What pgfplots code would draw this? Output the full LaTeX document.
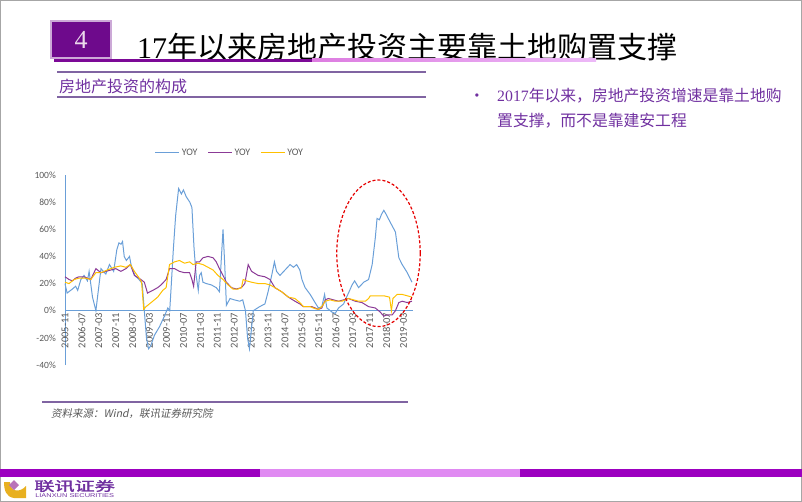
\documentclass[border=0pt]{standalone}
\usepackage{pgfplots}
\pgfplotsset{compat=1.18}
\usepackage{fontspec}
\setmainfont{Carlito}
\newfontfamily\cjk{Noto Sans CJK SC}
\newfontfamily\cjksl[FakeSlant=0.2]{Noto Sans CJK SC}
\newfontfamily\cjkb[FakeBold=2]{Noto Sans CJK SC}
\newfontfamily\serif{Liberation Serif}
\newfontfamily\lsans{Liberation Sans}
\definecolor{cblue}{HTML}{6A9FD8}
\definecolor{cpurp}{HTML}{8B3A96}
\definecolor{cyell}{HTML}{FFC000}
\definecolor{ctext}{HTML}{7030A0}
\definecolor{csq}{HTML}{6E0A8C}
\definecolor{cbar}{HTML}{9C00C0}
\definecolor{cpink}{HTML}{E08AF2}
\definecolor{cline}{HTML}{8064A2}
\definecolor{cgrey}{HTML}{595959}
\definecolor{cgold}{HTML}{E8B020}
\begin{document}
\begin{tikzpicture}
\path[use as bounding box] (0pt,0pt) rectangle (802pt,-502pt);
\begin{axis}[
  at={(65pt,-365pt)}, anchor=south west,
  scale only axis, width=348pt, height=190pt,
  xmin=0, xmax=164.5, ymin=-40, ymax=100,
  axis x line=middle, axis y line=left,
  axis line style={draw=cblue, line width=0.8pt, -},
  hide obscured x ticks=false, hide obscured y ticks=false,
  major tick length=0pt,
  xtick={0,8,...,160},
  xticklabels={2005-11,2006-07,2007-03,2007-11,2008-07,2009-03,2009-11,2010-07,2011-03,2011-11,2012-07,2013-03,2013-11,2014-07,2015-03,2015-11,2016-07,2017-03,2017-11,2018-07,2019-03},
  xticklabel style={rotate=90, anchor=east, font=\fontsize{10.5}{10.5}\selectfont, text=cgrey, inner sep=2pt},
  ytick={-40,-20,0,20,40,60,80,100},
  yticklabels={-40\%,-20\%,0\%,20\%,40\%,60\%,80\%,100\%},
  yticklabel style={font=\fontsize{9.5}{9.5}\selectfont, text=cgrey, inner sep=1pt, xshift=-8pt},
  legend columns=3,
  legend style={at={(0.474,1.116)}, anchor=center, draw=none, fill=none, font=\fontsize{10}{10}\selectfont, text=cgrey,
    /tikz/every even column/.append style={column sep=8pt}},
  legend image code/.code={\draw[#1] (0pt,0pt) -- (24pt,0pt);},
  every axis plot/.append style={line width=1pt},
  clip=false,
]
\addplot[cblue] coordinates {(0,20)(1,13)(3.5,16)(5,18)(6,15)(7.5,23)(9,26)(10.6,22)(11.4,29)(13,10)(14.6,0)(17,31)(19.3,27)(21,34)(23,29)(24.5,45)(25.5,50)(26.5,49)(27.2,51)(28,40)(29,37)(30.5,40)(31.2,34)(33,26)(35,23)(36.5,20)(37.5,0)(38.5,-20)(39.5,-28)(40.5,-26)(42.3,-18)(44.6,-12)(47,-4)(48.6,2)(49.5,0)(50.2,18)(51.2,45)(52.3,70)(53.7,90)(55,86)(56,89)(57.3,84)(59,80)(60,76)(61,46)(62,26)(63,15)(63.6,26)(64.4,28)(65.2,21)(66.8,20)(69.2,19)(71.5,17)(73,14)(74.7,60)(75.5,34)(76.3,4)(78,9)(80,8)(82.6,7)(84,8)(85.3,0)(86.3,-20)(87.2,-28)(89,0)(92,3)(94.5,5)(96,14)(97.7,26)(99,36)(100,29)(101.6,26)(104,30)(106.4,34)(108,32)(109.5,34)(111,30)(112,23)(113.5,17)(115.9,12)(118.2,6)(119.8,2)(121.4,3)(122.7,12)(123.8,2)(126.2,-1)(127.7,-2)(129.3,2)(131.7,5)(132.5,8)(134,13)(135.7,19)(136.9,22)(138.8,17)(141.2,21)(143.5,23)(145.2,34)(146.7,54)(147.5,68)(148.6,67)(149.6,71)(150.7,74)(151.8,71)(153.8,65)(156.2,58)(157.8,39)(159.4,34)(161.8,28)(164,21)};
\addlegendentry{YOY}
\addplot[cpurp] coordinates {(0,25)(1.9,23)(3.5,22)(5,24)(6.6,25)(9,25)(12.2,23)(14.6,31)(17,28)(19.3,29)(21.7,30)(24,31)(26.4,29)(28.8,31)(30.9,34)(32.8,26)(35.9,23)(37.5,21)(39,13)(41.5,15)(43.8,17)(45.4,19)(47.8,23)(49.4,31)(51.8,31)(54.1,29)(56.5,28)(58.9,28)(60,23)(60.8,18)(62,36)(63.6,36)(65.2,39)(67.6,40)(70,39)(71.5,36)(73,31)(74.7,26)(76.3,21)(78.7,17)(81,16)(83.4,17)(85,20)(86.6,34)(88.2,29)(91.3,26)(94.5,25)(96.9,23)(99.2,17)(102.4,14)(105.6,10)(108.7,7)(111,5)(112.7,3)(116.7,3)(119.8,1)(121.4,2)(123,8)(124.5,9)(126.9,8)(129.3,7)(131.7,8)(134,9)(137.2,7)(140.4,6)(143.5,3)(146.7,2)(149,-1)(150.7,-4)(152.3,-3)(154.7,-3)(156.2,0)(157.8,6)(159.4,7)(161.8,6)(164,7)};
\addlegendentry{YOY}
\addplot[cyell] coordinates {(0,21)(1.9,20)(4.3,23)(6.6,24)(9.8,24)(12.2,23)(14.6,28)(17,28)(20,30)(23.3,32)(26.4,33)(28.8,32)(30.9,34)(32.8,29)(35.1,24)(36.2,21)(37.2,1)(38.3,3)(40.7,6)(43.8,10)(46.2,15)(47.8,17)(49.4,34)(51.8,36)(54.1,37)(56.5,35)(58.9,36)(60.5,34)(62.8,35)(65.2,34)(67.6,32)(70,30)(72.3,26)(74.7,23)(77.1,19)(79.4,16)(81.8,16)(83.4,17)(84.2,23)(85.8,22)(88.2,21)(91.3,20)(94.5,20)(96.9,19)(99.2,17)(102.4,14)(105.6,10)(108.7,9)(111,6)(112.7,3)(115.9,3)(118.2,1.5)(119.8,1)(121.4,3)(123,7)(125.3,8)(127.7,7)(130.9,7)(134,9)(136.4,8)(138.8,7)(142,7)(143.5,9)(144.3,11)(147.5,11)(150.7,11)(153.4,10)(154.3,0)(155,9)(157,12)(159.4,12)(161.8,11)(164,10)};
\addlegendentry{YOY}
\end{axis}
\begin{scope}[x=1pt,y=-1pt]
% frame
\draw[gray!70, line width=1pt] (0.5,0.5) rectangle (801.5,501.5);
% title block
\fill[csq!35] (50,20) rectangle (112,59);
\fill[csq] (52,22) rectangle (110,57);
\node[text=violet!15, font=\serif\fontsize{26}{26}\selectfont] at (81,40) {4};
\node[anchor=west, font=\cjk\fontsize{30}{30}\selectfont, inner sep=0pt] at (137,47) {{\serif 17}年以来房地产投资主要靠土地购置支撑};
\fill[csq!90!magenta] (54,59) rectangle (312,62);
\shade[left color=cpink!90!purple, right color=cpink!60] (312,59) rectangle (596,62);
% subtitle
\draw[cline, line width=1.2pt] (57,72) -- (426,72);
\draw[cline, line width=1.2pt] (57,97) -- (426,97);
\node[anchor=west, text=ctext, font=\cjk\fontsize{16}{16}\selectfont, inner sep=0pt] at (59,86) {房地产投资的构成};
% bullet
\node[text=ctext, font=\lsans\fontsize{12}{12}\selectfont] at (477,97) {•};
\node[anchor=west, text=ctext, font=\cjk\fontsize{15.8}{15.8}\selectfont, inner sep=0pt] at (497,96) {{\serif 2017}年以来，房地产投资增速是靠土地购};
\node[anchor=west, text=ctext, font=\cjk\fontsize{15.8}{15.8}\selectfont, inner sep=0pt] at (497,121) {置支撑，而不是靠建安工程};
% red ellipse
\draw[red!90!black, line width=1.2pt, dash pattern=on 3pt off 2pt] (378.5,253.3) ellipse [x radius=41.7, y radius=73.3];
% source
\draw[cline, line width=1.2pt] (42,402) -- (408,402);
\node[anchor=west, text=cgrey, font=\cjksl\fontsize{10.5}{10.5}\selectfont, inner sep=0pt] at (51,414) {资料来源：Wind，联讯证券研究院};
% bottom bars
\fill[cbar] (0,469) rectangle (260,477);
\fill[cpink] (260,469) rectangle (520,477);
\fill[cbar] (520,469) rectangle (802,477);
% logo
\fill[cgold] (4,482) -- (10,482) .. controls (10,492) and (20,493) .. (26,486) -- (26,498) -- (14,498) .. controls (6,497) and (4,490) .. cycle;
\fill[violet!55] (14,480) -- (19,485) -- (14,490) -- (9,485) -- cycle;
\node[anchor=west, text=ctext, font=\cjkb\fontsize{13}{13}\selectfont, inner sep=0pt, xscale=1.55] at (34,486) {联讯证券};
\node[anchor=west, text=ctext, font=\lsans\fontsize{5.5}{5.5}\selectfont, inner sep=0pt, xscale=1.35] at (35,496) {LIANXUN SECURITIES};
\end{scope}
\end{tikzpicture}
\end{document}
